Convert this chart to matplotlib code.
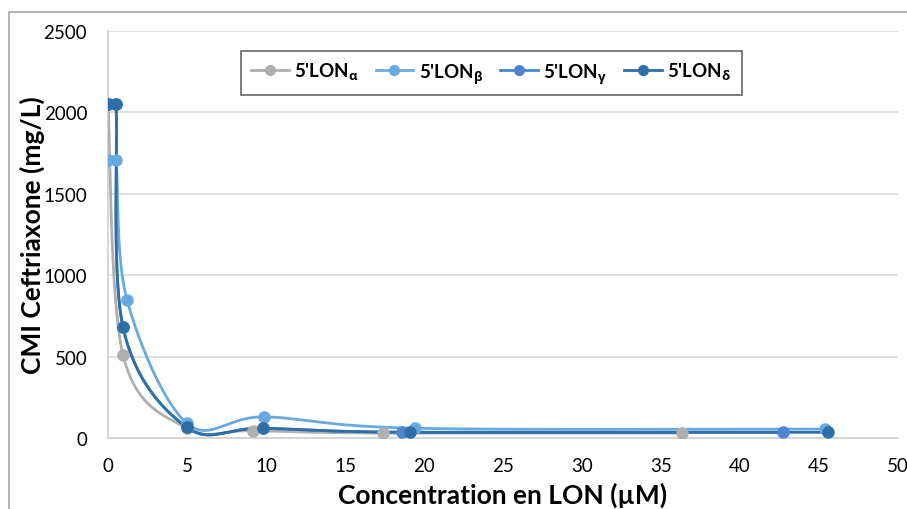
import numpy as np
import matplotlib
matplotlib.use("Agg")
import matplotlib.pyplot as plt
from matplotlib.patches import Rectangle

plt.rcParams['font.family'] = ['Lato', 'DejaVu Sans']
plt.rcParams['mathtext.fontset'] = 'custom'
plt.rcParams['mathtext.rm'] = 'Open Sans:bold'
plt.rcParams['mathtext.it'] = 'Open Sans:bold'
plt.rcParams['mathtext.bf'] = 'Open Sans:bold'

# Données
x_alpha = [0, 0.95, 5, 9.2, 17.4, 36.3]
y_alpha = [2050, 510, 60, 45, 30, 30]

x_beta = [0, 0.5, 1.2, 5, 9.9, 19.4, 45.4]
y_beta = [1710, 1710, 850, 90, 130, 60, 55]

x_gamma = [0, 0.5, 0.95, 5, 9.8, 18.6, 42.7]
y_gamma = [2050, 2050, 680, 65, 60, 35, 35]

x_delta = [0, 0.5, 0.95, 5, 9.8, 19.1, 45.6]
y_delta = [2050, 2050, 680, 65, 60, 35, 35]

labels = ["5'LON$_{\\alpha}$", "5'LON$_{\\beta}$", "5'LON$_{\\gamma}$", "5'LON$_{\\delta}$"]
colors = ['#AFAFAF', '#68AADF', '#4F84D0', '#2E6FA8']

XMAX, YMAX = 50, 2500
W_PX, H_PX = 790, 407


def smooth(xs, ys, n=40):
    # courbe lissée type Excel (Bezier / Catmull-Rom) en coordonnées écran
    p = np.column_stack([np.array(xs) / XMAX * W_PX, np.array(ys) / YMAX * H_PX])
    out = [p[0]]
    for i in range(len(p) - 1):
        p0 = p[i - 1] if i > 0 else p[i]
        p1, p2 = p[i], p[i + 1]
        p3 = p[i + 2] if i + 2 < len(p) else p[i + 1]
        c1 = p1 + (p2 - p0) / 6
        c2 = p2 - (p3 - p1) / 6
        if p1[1] == p2[1]:
            # segment plat : pas de dépassement
            c1 = p1.copy()
            c2 = p2.copy()
        t = np.linspace(0, 1, n)[1:, None]
        seg = ((1 - t) ** 3) * p1 + 3 * ((1 - t) ** 2) * t * c1 + 3 * (1 - t) * t ** 2 * c2 + t ** 3 * p2
        out.extend(seg)
    out = np.array(out)
    return out[:, 0] / W_PX * XMAX, out[:, 1] / H_PX * YMAX


fig = plt.figure(figsize=(9.07, 5.10), dpi=100)
ax = fig.add_axes([108 / 907, 1 - 439 / 510, 790 / 907, 407 / 510])

series = [(x_alpha, y_alpha), (x_beta, y_beta), (x_gamma, y_gamma), (x_delta, y_delta)]
for (xs, ys), lab, c in zip(series, labels, colors):
    sx, sy = smooth(xs, ys)
    ax.plot(sx, sy, color=c, lw=2.0, zorder=3, solid_capstyle='round')
    ax.plot(xs, ys, 'o', color=c, ms=8, zorder=4)
    ax.plot([], [], '-o', color=c, lw=2.0, ms=7, label=lab)

ax.set_xlim(0, XMAX)
ax.set_ylim(0, YMAX)
ax.set_xticks(np.arange(0, 51, 5))
ax.set_yticks(np.arange(0, 2501, 500))
ax.yaxis.grid(True, color='#D9D9D9', lw=1.2)
ax.set_axisbelow(True)
for s in ['top', 'right']:
    ax.spines[s].set_visible(False)
for s in ['left', 'bottom']:
    ax.spines[s].set_color('#D0D0D0')
    ax.spines[s].set_linewidth(1.2)
ax.tick_params(length=0, labelsize=13.5)
ax.tick_params(axis='x', pad=14)
ax.tick_params(axis='y', pad=15)

ax.set_xlabel("Concentration en LON (µM)", fontsize=19, fontweight='bold', labelpad=5)
ax.set_ylabel("CMI Ceftriaxone (mg/L)", fontsize=19, fontweight='bold', labelpad=-1)

leg = ax.legend(loc='upper center', bbox_to_anchor=(0.485, 0.975), ncol=4,
                frameon=True, fancybox=False, edgecolor='#404040',
                prop={'weight': 'bold', 'size': 13.5}, handlelength=2.0,
                columnspacing=0.9, handletextpad=0.3, borderpad=0.55)
leg.get_frame().set_linewidth(1.2)

fig.patches.append(Rectangle((9 / 907, -0.1), 1.1, 1 - 13 / 510 + 0.1,
                             transform=fig.transFigure, fill=False,
                             edgecolor='#A6A6A6', lw=1.2))

fig.savefig("out.png", dpi=100)
